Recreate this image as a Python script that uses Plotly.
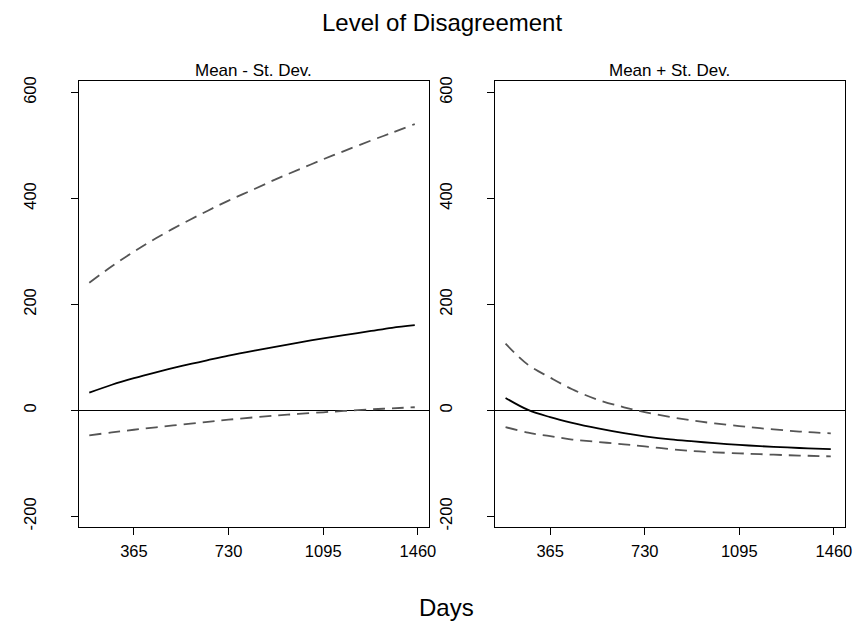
import plotly.graph_objects as go

days = [193, 280, 365, 450, 550, 650, 730, 830, 920, 1000, 1095, 1175, 1280, 1360, 1448]

# Panel 1: Mean - St. Dev.
left_upper = [241, 272, 299.6, 325, 352, 377, 396, 418, 438, 454.5, 474, 489.5, 509.5, 524, 540.5]
left_mean = [33.5, 48.5, 61, 72, 84, 95, 103.5, 113, 121, 128, 136, 142, 150, 156, 161]
left_lower = [-47, -41.5, -36.5, -32, -26.5, -21.5, -17.5, -13, -9.5, -6.5, -3.5, -1, 2, 4, 6]

# Panel 2: Mean + St. Dev.
right_upper = [126, 86, 62, 40, 20, 6, -3, -12.5, -19.5, -24.5, -29.5, -33.5, -38, -41, -43.3]
right_mean = [23.6, 1, -12.7, -23.5, -34, -43, -48.8, -54.7, -58.5, -61.8, -65.1, -67.4, -69.9, -71.5, -72.9]
right_lower = [-31.5, -42, -48.5, -55, -59.5, -64, -68, -73, -77, -79, -81, -82.5, -84.5, -85.5, -86.7]

x_ticks = [365, 730, 1095, 1460]
y_ticks = [-200, 0, 200, 400, 600]

W, H = 861, 629
FONT = "Liberation Sans, Arial, Helvetica, sans-serif"

fig = go.Figure()

dash_style = dict(color="#555555", width=1.8, dash="12px,7px")
solid_style = dict(color="black", width=1.8)

for xa, ya, up, mn, lo in [("x", "y", left_upper, left_mean, left_lower),
                           ("x2", "y2", right_upper, right_mean, right_lower)]:
    fig.add_trace(go.Scatter(x=days, y=up, mode="lines", line=dash_style,
                             xaxis=xa, yaxis=ya, showlegend=False, line_shape="spline"))
    fig.add_trace(go.Scatter(x=days, y=mn, mode="lines", line=solid_style,
                             xaxis=xa, yaxis=ya, showlegend=False, line_shape="spline"))
    fig.add_trace(go.Scatter(x=days, y=lo, mode="lines", line=dash_style,
                             xaxis=xa, yaxis=ya, showlegend=False, line_shape="spline"))

def px_x(p):
    return p / W

def px_y(p):
    return 1 - p / H

xcommon = dict(range=[152, 1502], tickvals=x_ticks, ticktext=[str(t) for t in x_ticks],
               ticks="outside", ticklen=7, tickwidth=1, tickcolor="black",
               showline=True, linecolor="black", linewidth=1.2, mirror=True,
               showgrid=False, zeroline=False, ticklabelstandoff=2,
               tickfont=dict(family=FONT, size=16.5, color="black"))
ycommon = dict(range=[-219.5, 621.4], tickvals=y_ticks, ticktext=[str(t) for t in y_ticks],
               ticks="outside", ticklen=7, tickwidth=1, tickcolor="black",
               showline=True, linecolor="black", linewidth=1.2, mirror=True,
               showgrid=False, zeroline=True, zerolinecolor="black", zerolinewidth=1.2,
               tickangle=-90, ticklabelstandoff=28,
               tickfont=dict(family=FONT, size=16.5, color="black"))

fig.update_layout(
    width=W, height=H,
    margin=dict(l=0, r=0, t=0, b=0),
    paper_bgcolor="white", plot_bgcolor="white",
    xaxis=dict(domain=[px_x(79.3), px_x(432.3)], anchor="y", **xcommon),
    yaxis=dict(domain=[px_y(529.3), px_y(77.3)], anchor="x", **ycommon),
    xaxis2=dict(domain=[px_x(499), px_x(851.7)], anchor="y2", **xcommon),
    yaxis2=dict(domain=[px_y(529.3), px_y(77.3)], anchor="x2", **ycommon),
    annotations=[
        dict(text="Level of Disagreement", x=px_x(446), y=px_y(18.2), xref="paper", yref="paper",
             showarrow=False, xanchor="center", yanchor="middle",
             font=dict(family=FONT, size=24, color="black")),
        dict(text="Mean - St. Dev.", x=px_x(255.8), y=px_y(66), xref="paper", yref="paper",
             showarrow=False, xanchor="center", yanchor="middle",
             font=dict(family=FONT, size=17, color="black")),
        dict(text="Mean + St. Dev.", x=px_x(675.3), y=px_y(66), xref="paper", yref="paper",
             showarrow=False, xanchor="center", yanchor="middle",
             font=dict(family=FONT, size=17, color="black")),
        dict(text="Days", x=px_x(450), y=px_y(611.5), xref="paper", yref="paper",
             showarrow=False, xanchor="center", yanchor="middle",
             font=dict(family=FONT, size=24, color="black")),
    ],
)

fig.write_html("out.html",
               config={"displayModeBar": False},
               post_script="document.body.style.margin='0';document.body.style.overflow='hidden';")
